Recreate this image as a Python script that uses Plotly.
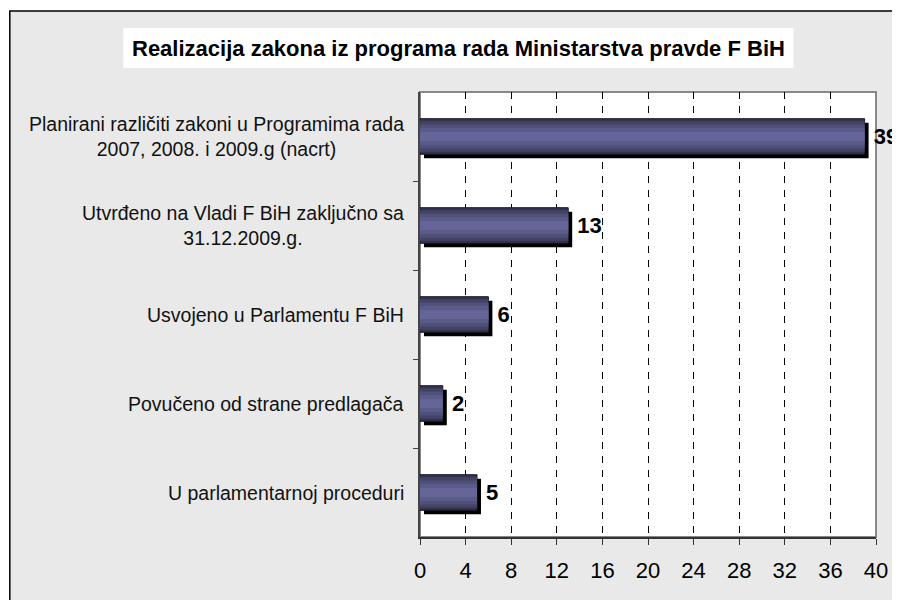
import plotly.graph_objects as go

categories = [
    "Planirani različiti zakoni u Programima rada\n2007, 2008. i 2009.g (nacrt)",
    "Utvrđeno na Vladi F BiH zaključno sa\n31.12.2009.g.",
    "Usvojeno u Parlamentu F BiH",
    "Povučeno od strane predlagača",
    "U parlamentarnoj proceduri",
]
values = [39, 13, 6, 2, 5]
x_ticks = [0, 4, 8, 12, 16, 20, 24, 28, 32, 36, 40]
title = "Realizacija zakona iz programa rada Ministarstva pravde F BiH"

# page body has an 8px margin; work in reference pixel coords and shift
O = 8
W, H = 900 - O, 600 - O
L, R, T, B = 420 - O, 900 - 878, 92 - O, 600 - 537
pw, ph = W - L - R, H - T - B

def px_x(p):
    return (p - O - L) / pw

def px_y(p):
    return (H - B - (p - O)) / ph

idx = list(range(len(categories)))
bw = 0.4
fig = go.Figure()

# shadow
fig.add_trace(go.Bar(
    y=idx, x=values, base=[0.35] * len(values), orientation="h",
    width=bw, offset=-bw / 2 + 0.045,
    marker=dict(color="black", line=dict(width=0)),
    hoverinfo="skip", cliponaxis=False,
))
# gradient layers
layers = [(0.4, "#33334e", "#1a1a28", 1), (0.34, "#434366", 0, 0), (0.27, "#505078", 0, 0),
          (0.19, "#5b5b89", 0, 0), (0.1, "#656597", 0, 0)]
for k, (w, c, lc, lw) in enumerate(layers):
    kw = {}
    if k == 0:
        kw = dict(text=[str(v) for v in values], texttemplate=" %{text}", textposition="outside",
                  textfont=dict(family="Liberation Sans", size=22, color="black", weight="bold"),
                  constraintext="none")
    fig.add_trace(go.Bar(
        y=idx, x=values, orientation="h", width=w, offset=-w / 2,
        marker=dict(color=c, line=dict(color=lc if lw else c, width=lw)),
        hoverinfo="skip", cliponaxis=False, **kw,
    ))

fig.update_layout(
    width=W, height=H, barmode="overlay", showlegend=False,
    margin=dict(l=L, r=R, t=T, b=B),
    paper_bgcolor="white", plot_bgcolor="white",
    font=dict(family="Liberation Sans", color="black"),
    xaxis=dict(range=[0, 40], tickvals=x_ticks, showgrid=True, gridcolor="black",
               griddash="7px,7px", gridwidth=1, zeroline=False,
               showline=True, linecolor="#333", linewidth=2, mirror=False,
               ticks="outside", ticklen=6, tickcolor="#333", ticklabelstandoff=7,
               tickfont=dict(size=22, color="black")),
    yaxis=dict(range=[4.5, -0.5], tickvals=[0.5, 1.5, 2.5, 3.5], ticktext=[""] * 4,
               showgrid=False, zeroline=False, showline=True, linecolor="#444", linewidth=2,
               ticks="outside", ticklen=5, tickcolor="#444"),
)

shapes = [
    # outer textured panel
    dict(type="rect", xref="paper", yref="paper", x0=px_x(8), x1=px_x(920), y0=px_y(620), y1=px_y(11),
         fillcolor="#e9e9e9", line=dict(color="black", width=1.5), layer="below"),
    # plot area
    dict(type="rect", xref="paper", yref="paper", x0=0, x1=1, y0=0, y1=1,
         fillcolor="white", line=dict(color="#888", width=2), layer="below"),
    # title box
    dict(type="rect", xref="paper", yref="paper", x0=px_x(122), x1=px_x(795), y0=px_y(68), y1=px_y(28),
         fillcolor="white", line=dict(width=0), layer="below"),
]
fig.update_layout(shapes=shapes)

annotations = [dict(text="<b>" + title + "</b>", xref="paper", yref="paper",
                    x=px_x(459), y=px_y(48), xanchor="center", yanchor="middle",
                    showarrow=False, font=dict(size=22, color="black"))]
for i, cat in enumerate(categories):
    annotations.append(dict(
        text=cat.replace("\n", "<br>"), align="center",
        xref="paper", yref="y", x=px_x(406), y=i,
        xanchor="right", yanchor="middle", showarrow=False,
        font=dict(size=19.5, color="#111")))
fig.update_layout(annotations=annotations)

fig.write_html("out.html")
